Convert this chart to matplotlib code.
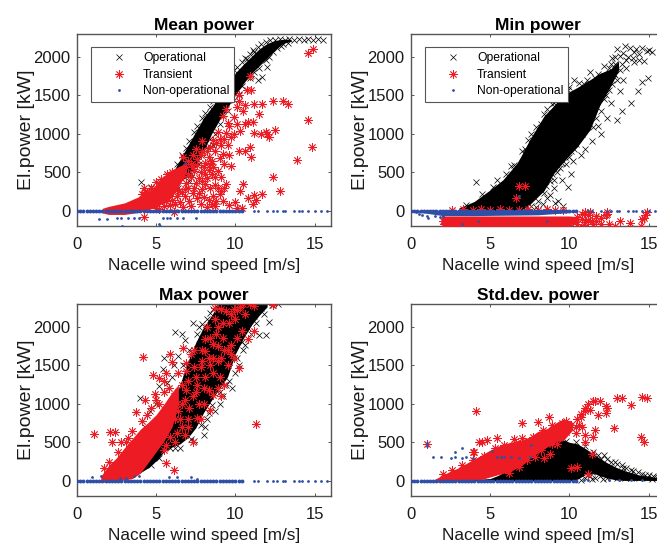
"""Four panels of turbine power against nacelle wind speed."""

import numpy as np
import matplotlib
matplotlib.use("Agg")
import matplotlib.pyplot as plt
from matplotlib.lines import Line2D

plt.rcParams["font.family"] = ["Liberation Sans", "DejaVu Sans"]

# All values are estimated from the picture. The *_band arrays are the outline
# (wind speed, lower, upper) of the parts where the markers overlap into a solid
# patch, they are read as envelopes because single markers cannot be told apart.

zero_speeds = [0, .2, .4, .6, .8, 1, 1.2, 1.4, 1.6, 1.8, 2, 2.2, 2.4, 2.6, 2.8, 3, 3.2, 3.4, 3.6, 3.8,
               4, 4.2, 4.4, 4.6, 4.8, 5, 5.2, 5.4, 5.6, 5.8, 6, 6.2, 6.4, 6.6, 6.8, 7, 7.2, 7.4, 7.6,
               7.8, 8, 8.2, 8.4, 8.6, 8.8, 9, 9.2, 9.4, 9.6, 9.8, 10, 10.2, 10.4]
zero_speeds_sparse = [11.2, 11.4, 12, 12.4, 12.6, 13, 13.1, 13.7, 14, 14.2, 14.6, 15, 15.4, 15.8]

# Mean power
mean_oper_band_v = [3.5, 4, 4.5, 5, 5.5, 6, 6.5, 7, 7.5, 8, 8.5, 9, 9.5, 10, 10.5, 11, 11.5, 12, 12.5, 13, 13.5]
mean_oper_band_lo = [40, 70, 110, 170, 240, 300, 380, 450, 580, 780, 1000, 1180, 1340, 1500, 1650, 1780, 1880, 1980, 2090, 2170, 2200]
mean_oper_band_hi = [90, 140, 210, 300, 390, 480, 660, 845, 1030, 1210, 1340, 1490, 1640, 1790, 1900, 2000, 2100, 2170, 2210, 2225, 2225]
mean_oper = [(4.05, 370), (4.7, 310), (5.2, 350), (5.7, 450), (6.3, 600), (6.9, 810), (7.4, 1020), (7.9, 1200),
             (8.4, 1350), (8.9, 1500), (9.4, 1660), (9.9, 1820), (10.4, 1930), (10.9, 2030), (11.4, 2120),
             (11.9, 2190), (10.6, 1980), (11.2, 2060), (9.7, 1760), (12.2, 2210), (12.5, 2220), (12.8, 2235),
             (13.1, 2220), (13.4, 2230), (13.7, 2215), (14, 2225), (14.3, 2220), (14.6, 2225), (14.9, 2220),
             (15.2, 2225), (15.5, 2220), (12.1, 1990), (11.7, 1730), (12, 1870), (11.4, 1700), (12.6, 2110),
             (13, 2160), (11.2, 1800), (10.4, 1620), (9.9, 1430), (9.2, 1250), (8.7, 1000), (8.2, 820),
             (7.7, 610), (7.2, 480), (8.6, 850), (7.1, 390), (6.4, 300), (6.6, 720), (7.1, 900), (7.6, 1100),
             (8.1, 1270), (8.6, 1420), (9.1, 1570), (9.6, 1720), (10.1, 1860), (10.7, 1970), (11.1, 2090),
             (11.6, 2160), (12, 2050), (12.4, 2060), (12.9, 2140), (11.5, 1850), (10.9, 1720), (10.2, 1520),
             (9.5, 1290), (9, 1130), (8.4, 930), (7.9, 730), (13.3, 2180), (11.9, 1960), (11, 1760)]
mean_trans_band_v = [1.6, 2, 3, 4, 4.5, 5, 5.5, 6, 6.5, 6.9]
mean_trans_band_lo = [-30, -50, -50, -20, 10, 50, 100, 180, 340, 500]
mean_trans_band_hi = [30, 55, 100, 190, 250, 340, 450, 530, 580, 620]
mean_trans = [(14.9, 2100), (14.6, 2050), (10.9, 1750), (11, 1560), (10.7, 1560), (10.2, 1500), (10.2, 1420),
              (10.1, 1350), (10.6, 1370), (10.5, 1290), (11.2, 1390), (11.7, 1390), (12.4, 1420), (13, 1420),
              (13.3, 1380), (14.6, 1180), (14.85, 830), (13.9, 660), (12.5, 1050), (11.5, 1250), (11.1, 1150),
              (10.8, 1150), (10.6, 1130), (10.1, 1130), (9.9, 1210), (9.5, 1140), (9.4, 1320), (9.2, 1230),
              (11, 700), (10.6, 780), (10.2, 770), (10.9, 820), (11.2, 1010), (11.6, 1000), (11.9, 1020),
              (12.1, 960), (12, 990), (12.4, 430), (12.8, 255), (11.2, 200), (11.7, 210), (11.3, 140), (11.1, 80),
              (10.5, 350), (10.3, 260), (10.8, 170), (10, 110), (10.4, 40), (10.1, 40), (9.4, 350), (9.3, 290),
              (9.1, 260), (9, 210), (8.8, 130), (8.6, 190), (8.4, 300), (8.7, 330), (8.2, 420), (8.3, 530),
              (8.9, 520), (9.3, 600), (9.6, 720), (9.2, 740), (9, 680), (9.5, 850), (9.1, 850), (8.7, 780),
              (8.5, 650), (8.8, 880), (8.9, 1020), (9.4, 1010), (9.6, 1100), (8.1, 620), (7.8, 500), (7.6, 670),
              (8.2, 770), (8.6, 920), (7.3, 720), (7, 650), (6.7, 700), (7.5, 800), (7.9, 900), (7.2, 440),
              (7.5, 360), (7.9, 280), (8, 180), (7.6, 160), (7.1, 120), (7.3, 230), (6.8, 280), (6.9, 360),
              (7.4, 520), (7.9, 380), (8.5, 80), (8.3, 140), (6.5, 110), (5.9, 70), (6.3, 190), (4.2, 300),
              (4.3, 240), (4.1, 220), (4.25, -80), (6.1, -20), (5.8, 200), (6.6, 240), (7, 300), (7.7, 420),
              (8.1, 480), (8.4, 600), (6.9, 560), (7.2, 600), (6.2, 300), (6.4, 400), (6.7, 450), (7, 480),
              (7.3, 560), (7.6, 590), (8, 560), (7.8, 720), (8.3, 700), (8.5, 470), (8.7, 430), (8.9, 300),
              (8.1, 350), (7.7, 230), (7.4, 300), (6.8, 190), (6.4, 250), (6, 140), (5.5, 60), (5, 40), (5.2, 20),
              (5.6, 130), (6.2, 80), (6.7, 50), (7.2, 60), (7.8, 90), (8.2, 50), (8.7, 60), (9.2, 130), (9.6, 70),
              (6, 500), (5.7, 470), (5.3, 410), (5, 370), (4.7, 290), (4.4, 240), (9.7, 950), (9.9, 1000),
              (10.3, 1040), (8.4, 830), (9, 930), (9.3, 930), (7.9, 770), (8.6, 560), (9.1, 440), (9.7, 580)]
mean_off = [(1.4, -110), (1.9, -110), (2.5, -100), (2.8, -95), (3.2, -100), (3.6, -100), (3.9, -100), (5.4, -95),
            (5.7, -95), (5.9, -100), (6.3, -100), (6.7, -100), (7.5, -95), (2.85, -205), (5.2, -180), (5.25, -195),
            (6.8, 620)]

# Min power
min_oper_band_v = [3, 4, 5, 5.8, 6.7, 7, 7.5, 8.4, 9, 9.6, 10.5, 11.3, 11.9, 12.6, 13.1]
min_oper_band_lo = [0, 0, 0, 0, 0, 10, 80, 260, 480, 630, 830, 1050, 1360, 1620, 1820]
min_oper_band_hi = [30, 120, 270, 400, 620, 730, 925, 1230, 1360, 1500, 1600, 1700, 1780, 1840, 1940]
min_oper = [(13.5, 2140), (13, 2100), (12.9, 2000), (13.4, 2050), (13.8, 2110), (14.2, 2100), (14.6, 2110),
            (15, 2080), (15.2, 2060), (14.9, 2070), (14.4, 2040), (14, 1980), (14.1, 1930), (14.7, 1940), (13.3, 1900),
            (13.2, 1820), (12.6, 1900), (12.8, 1780), (12.4, 1730), (12.1, 1600), (13, 1700), (13.6, 1850), (12.7, 1650),
            (12.5, 1560), (13.2, 1550), (13.4, 1700), (13.9, 1400), (14.3, 1550), (14.6, 1670), (14.95, 1720), (13, 1180),
            (12.3, 1500), (12, 1300), (11.7, 1200), (11.5, 1080), (12, 1000), (11.8, 1100), (12.4, 1200), (11.4, 900),
            (11, 800), (10.7, 720), (10.2, 650), (10.1, 470), (9.9, 310), (9.5, 400), (9.4, 550), (9, 300), (8.8, 200),
            (9.3, 130), (9.6, 60), (9.1, 100), (8.6, 170), (8.3, 80), (7.9, 50), (9, 400), (10, 900), (10.4, 1000),
            (10.9, 1650), (11.3, 1800), (11.8, 1780), (11.1, 1700), (10.3, 1700), (10, 1600), (9.8, 1620), (9.4, 1540),
            (9, 1400), (8.6, 1320), (8.2, 1120), (7.6, 1000), (7.2, 800), (6.3, 580), (4.1, 370), (5.4, 400),
            (12.2, 1750), (11.6, 1500), (11.2, 1200), (10.8, 1000), (10.3, 800), (9.8, 600), (12.6, 1400), (13.3, 1300),
            (10.6, 1500), (11, 1600), (12.5, 1850), (12.9, 1900), (13.7, 2000), (14.4, 1950), (3.5, 70), (4.5, 210),
            (5.2, 310), (6, 470), (6.5, 590), (7, 770), (7.4, 920), (7.9, 1080), (8.4, 1260), (8.9, 1380), (9.2, 1470),
            (9.9, 1560), (10.6, 1660), (11.6, 1720), (11.3, 1280), (10.9, 1060), (10.4, 860), (10, 700), (9.5, 620),
            (9.2, 500), (8.8, 380), (8.4, 230), (8, 130), (7.6, 60), (7.2, 20), (11.9, 1560), (12.2, 1450), (12.4, 1620),
            (12.9, 1760), (13.2, 2010), (13.6, 1960), (14.1, 2060), (12.7, 1980), (12.2, 1880), (11.5, 1620), (11, 1400),
            (11.7, 1400), (10.9, 1280), (10.6, 1080), (10.1, 780), (9.7, 700), (9.3, 620), (8.9, 480), (8.5, 320)]
min_trans_band_v = [1.9, 2.3, 4, 6, 8, 9, 10, 10.6]
min_trans_band_lo = [-180, -240, -240, -240, -240, -220, -190, -150]
min_trans_band_hi = [-70, -70, -70, -70, -70, -70, -70, -80]
min_trans = [(6.6, 170), (6.8, 320), (7.2, 320), (10.5, -80), (10.8, -40), (11, -20), (11.2, -60), (11.4, -130),
             (11.7, -70), (12, -90), (12.3, -60), (12.4, -20), (12.5, -170), (12.9, -200), (13.2, -140), (13.8, -165),
             (14.5, -200), (14.6, -110), (14.8, -60), (14.9, -20), (11, -150), (10.5, -170), (12, -180), (11.5, -180),
             (10.8, -110), (11.3, -20), (12.4, -50), (14.7, -90), (10.2, -130), (11.7, -130), (9.9, -190), (2, -130),
             (2.1, -180), (10.9, -190), (11.2, -120), (2.6, 10), (3.3, 15), (3.9, 5), (4.4, 15), (5, 10), (5.6, 15),
             (6.2, 5), (6.8, 10), (7.4, 15), (8, 5), (8.6, 15), (9.1, 5), (9.6, 10)]
min_off_band_v = [0, 0.8, 1.5, 2, 4, 8, 10, 10.5]
min_off_band_lo = [-15, -30, -50, -65, -65, -55, -25, -5]
min_off_band_hi = [5, 5, 5, 5, 5, 5, 5, 5]
min_off = [(.3, -20), (.5, -40), (.7, -60), (1, -70), (1.1, -90), (1.5, -70), (1.8, -80), (2, -75),
           (3.2, -170), (4.2, -140), (6.8, 190), (8.6, -140)]

# Max power
max_oper_band_v = [3.8, 4.5, 5, 5.5, 6, 6.5, 7, 7.5, 8, 8.5, 9, 9.5, 10, 10.5, 11, 11.5, 12]
max_oper_band_lo = [80, 170, 260, 380, 440, 480, 560, 690, 890, 1050, 1200, 1350, 1650, 1850, 2020, 2150, 2260]
max_oper_band_hi = [100, 300, 450, 700, 1000, 1250, 1550, 1800, 2000, 2150, 2320, 2320, 2320, 2320, 2320, 2320, 2320]
max_oper = [(5.5, 1590), (5.4, 1450), (4, 1080), (6.2, 1930), (6.6, 1900), (7.1, 1700), (7.3, 2050), (5.7, 1270),
            (6, 1350), (5.2, 1230), (12.7, 2290), (12.1, 2060), (11.9, 1890), (11.5, 1890), (10.5, 1700), (8.1, 700),
            (8.3, 880), (8.1, 1860), (7.7, 2000), (8.2, 2100), (8.6, 2230), (9, 1000), (8.7, 900), (8, 600), (7.4, 520),
            (6.5, 420), (9.8, 1200), (10.2, 1500), (10.6, 1760), (11, 1900), (11.3, 2050), (11.8, 2170), (12.3, 2280),
            (6.8, 1830), (6.4, 1620), (6.1, 1500), (5, 1000), (4.6, 900), (4.3, 700), (7.6, 1900), (7.9, 2030),
            (8.4, 2180), (8.8, 2270), (7.2, 1600), (6.9, 1400), (6.7, 1500), (9.2, 1100), (9.6, 1300), (10, 1400),
            (8.5, 980), (8.2, 800), (7.8, 720), (7.2, 540), (6.2, 430), (5.9, 420), (5.2, 300), (4.7, 200), (10.4, 1800),
            (10.8, 1980), (11.2, 2140), (11.6, 2240), (10.1, 1600), (9.4, 1250), (9, 1150), (6.4, 1150), (6.1, 1020)]
max_trans_band_v = [1.5, 2, 2.5, 3, 3.5, 4, 4.5, 5, 5.5, 6, 6.4]
max_trans_band_lo = [-20, -20, 0, 10, 30, 100, 240, 380, 520, 700, 1000]
max_trans_band_hi = [60, 200, 300, 430, 550, 670, 760, 860, 1000, 1150, 1250]
max_trans = [(1.1, 610), (2.1, 630), (2.4, 630), (2.2, 500), (2.8, 500), (3.2, 550), (4.15, 1610), (3.7, 890),
             (4.3, 1050), (4.8, 1380), (4.9, 1130), (5, 1050), (5.5, 1300), (5.9, 1650), (6.1, 140), (5.6, 230),
             (11.3, 740), (10.2, 1460), (11.2, 1950), (10.8, 1840), (12.4, 2280), (5.2, 1330), (5.6, 1400), (6, 1540),
             (6.4, 1400), (6.6, 1250), (6.9, 1530), (7, 1300), (7.4, 1480), (7.6, 1250), (8.1, 1680), (8.4, 1500),
             (8.1, 1350), (8.6, 1780), (8.9, 1550), (9, 1350), (9.3, 1700), (9.5, 1500), (8.9, 2000), (9.2, 1850),
             (9.6, 2050), (9.4, 2200), (9.9, 2230), (10, 2100), (10.3, 2260), (10.6, 2170), (10.9, 2290), (11.2, 2270),
             (8.2, 2000), (8.7, 2100), (8.9, 1200), (8.3, 1180), (7.7, 1000), (7.3, 1100), (6.8, 1050), (6.5, 800),
             (6.8, 600), (6.2, 500), (5.5, 400), (7.3, 500), (7.8, 800), (8.4, 920), (9.1, 1100), (7.4, 1700),
             (7.2, 1650), (10.1, 1850), (10.4, 1950), (9.7, 1770), (7.9, 1550), (6.7, 1720), (9.9, 1600),
             (6.6, 1000), (6.4, 900), (6.2, 800), (6.6, 700), (7, 800), (7.1, 950), (6.9, 1180), (7.5, 1350), (7.8, 1480),
             (7.9, 1700), (8.3, 1600), (8.6, 1400), (8.6, 1600), (8.9, 1750), (9.1, 1600), (9.5, 1700), (9.7, 1650),
             (8.4, 1850), (8.1, 1840), (8.8, 1900), (9.2, 2050), (9.7, 2170), (10.1, 2220), (10.5, 2290), (9.1, 2230),
             (8.7, 2250), (6.1, 1100), (5.8, 1200), (5.5, 1150), (5.2, 1000), (4.7, 950), (4.4, 850), (4.1, 780),
             (3.5, 650), (3.1, 500), (2.6, 380), (2, 250), (1.7, 170), (5.9, 1000), (6.3, 1000), (7.5, 1150), (8, 1200),
             (7.6, 820), (8, 1000), (8.6, 1120), (9.3, 1250), (7, 700), (6.3, 620), (5.9, 570), (5.6, 470), (6.9, 1420)]
max_off = [(.95, 50), (1.5, 60), (2.7, 40), (3.1, 40), (3.6, 60), (3.9, 60), (5.8, 50), (6.3, 50), (7.2, 55), (7.6, 25)]

# Std.dev. power
std_oper_band_v = [3, 4, 5, 5.5, 6, 6.5, 7, 7.5, 8, 8.5, 9, 9.5, 10, 10.5, 11, 11.5, 12, 12.5, 13, 13.5, 14, 14.5, 15, 15.5]
std_oper_band_lo = [0, 0, 0, 0, 0, 0, 0, 0, 0, 0, 0, 0, 0, 20, 80, 100, 60, 30, 10, 5, 5, 5, 5, 5]
std_oper_band_hi = [10, 15, 30, 70, 130, 200, 260, 320, 390, 470, 520, 540, 500, 480, 420, 350, 280, 220, 170, 130, 100, 70, 60, 40]
std_oper = [(6.5, 440), (6.8, 430), (7.1, 470), (7.4, 500), (6.2, 430), (7.6, 450), (6.9, 420), (12.2, 330), (12, 280),
            (12.6, 250), (13, 220), (13.3, 200), (13.6, 160), (14, 130), (14.3, 110), (14.6, 90), (15, 70), (15.3, 60),
            (15.6, 50), (12.5, 180), (13.2, 120), (13.8, 70), (14.4, 40), (11, 30), (10.7, 10), (11.6, 40), (12.1, 20),
            (11.3, 60), (12.7, 60), (13.5, 40), (14.9, 30), (9.8, 520), (10.4, 500), (11, 450), (11.5, 380), (11.8, 330),
            (12.4, 280), (12.9, 250), (13.4, 170), (13.9, 140), (14.8, 80), (15.5, 40), (11.4, 20), (11.9, 60), (12.4, 40),
            (13, 30), (13.9, 30), (15.2, 20), (12.1, 160), (11.8, 130), (11.4, 120)]
std_trans_band_v = [1.5, 2.25, 3, 3.7, 4.5, 5, 5.5, 6.25, 7, 7.5, 8, 8.6, 9.2, 9.6, 10.2]
std_trans_band_lo = [-20, -20, -10, 0, 20, 50, 80, 120, 200, 290, 360, 440, 510, 520, 660]
std_trans_band_hi = [20, 100, 170, 250, 340, 400, 450, 500, 530, 570, 640, 680, 760, 800, 760]
std_trans = [(1, 480), (4.1, 900), (7, 750), (8, 770), (8.7, 830), (5.4, 550), (4.8, 530), (4.3, 500), (4.5, 500),
             (6.5, 540), (7, 560), (4, 380), (3.9, 370), (9.5, 750), (9.8, 780), (10.1, 720), (10.5, 800), (10.7, 870),
             (11, 950), (11.2, 1000), (11.5, 1030), (11.9, 1040), (11.6, 1040), (12.3, 970), (12.4, 950), (12.3, 880),
             (11.8, 850), (11.3, 920), (11, 900), (10.7, 830), (13, 1070), (13.3, 1070), (13.9, 990), (14.6, 1090),
             (14.9, 1070), (14.5, 570), (14.7, 510), (12.8, 690), (11.6, 660), (11, 600), (11.5, 570), (11, 500),
             (11.4, 350), (10.5, 180), (10.1, 170), (11.2, 90), (8.4, 300), (8.8, 350), (9.2, 480), (9, 540), (9.8, 640),
             (10.4, 620), (10.8, 700), (8.3, 600), (9.3, 700), (9.9, 700), (10.4, 700), (10.6, 730), (2, 90), (2.6, 140),
             (3.2, 200), (3.9, 270), (4.6, 320), (5.3, 420), (5.9, 470), (6.6, 490), (7.7, 570), (8.3, 660), (8.9, 730),
             (6.2, 100), (6.8, 180), (7.3, 270), (7.8, 310), (8.2, 400), (8.9, 480), (7.4, 430), (8, 480), (9.4, 570)]
std_off = [(1, 490), (1, 450), (1.4, 310), (1.9, 310), (2.5, 300), (2.8, 310), (2.8, 370), (3.2, 420), (3.2, 300),
           (3.5, 310), (3.9, 300), (5.1, 390), (5.4, 310), (5.7, 310), (5.9, 310), (6.3, 310), (6.8, 290), (7.5, 310),
           (7.6, 470), (10.9, 5), (11.2, 5), (12.5, 5), (13.1, 5), (13.9, 5), (14.6, 5)]

panel_titles = ["Mean power", "Min power", "Max power", "Std.dev. power"]
x_ticks = [0, 5, 10, 15]
y_ticks = [0, 500, 1000, 1500, 2000]
legend_labels = ["Operational", "Transient", "Non-operational"]

BLACK = "#000000"
RED = "#ed1c24"
BLUE = "#2f4fa6"
EDGE = "#555555"
ASTERISK = (8, 2, 0)


def draw_points(ax, points, color, marker, size, width, zorder):
    arr = np.array(points)
    ax.plot(arr[:, 0], arr[:, 1], linestyle="none", marker=marker, color=color,
            markersize=size, markeredgewidth=width, zorder=zorder)


def draw_panel(ax, title, oper_band, oper, trans_band, trans, off, sparse=True, off_band=None):
    ax.fill_between(oper_band[0], oper_band[1], oper_band[2], color=BLACK, linewidth=0, zorder=1)
    draw_points(ax, oper, BLACK, "x", 5, 0.5, 2)
    ax.fill_between(trans_band[0], trans_band[1], trans_band[2], color=RED, linewidth=0, zorder=3)
    draw_points(ax, trans, RED, ASTERISK, 6, 0.6, 4)

    ax.plot(zero_speeds, np.zeros(len(zero_speeds)), linestyle="none", marker="o", color=BLUE,
            markersize=2.8, markeredgewidth=0, zorder=5)
    if sparse:
        ax.plot(zero_speeds_sparse, np.zeros(len(zero_speeds_sparse)), linestyle="none", marker="o",
                color=BLUE, markersize=2, markeredgewidth=0, zorder=5)
    if off_band:
        ax.fill_between(off_band[0], off_band[1], off_band[2], color=BLUE, linewidth=0, zorder=5)
    draw_points(ax, off, BLUE, "o", 2, 0, 5)

    ax.set_xlim(0, 16)
    ax.set_ylim(-200, 2300)
    ax.set_xticks(x_ticks)
    ax.set_yticks(y_ticks)
    ax.tick_params(direction="in", top=True, right=True, length=2.5, width=0.7, color=EDGE,
                   labelsize=12, labelcolor="#1a1a1a")
    ax.tick_params(axis="x", pad=8)
    ax.tick_params(axis="y", pad=4.5)
    for spine in ax.spines.values():
        spine.set_color(EDGE)
        spine.set_linewidth(1.0)
    ax.set_title(title, fontsize=12.5, fontweight="bold", pad=2.5)
    ax.set_xlabel("Nacelle wind speed [m/s]", fontsize=12.4, color="#1a1a1a", labelpad=4)
    ax.set_ylabel("El.power [kW]", fontsize=14, color="#1a1a1a", labelpad=-1)


def add_legend(ax):
    handles = [
        Line2D([], [], linestyle="none", marker="x", color=BLACK, markersize=5, markeredgewidth=0.5),
        Line2D([], [], linestyle="none", marker=ASTERISK, color=RED, markersize=6, markeredgewidth=0.6),
        Line2D([], [], linestyle="none", marker="o", color=BLUE, markersize=2, markeredgewidth=0),
    ]
    leg = ax.legend(handles, legend_labels, loc="upper left", bbox_to_anchor=(0.054, 0.928),
                    borderaxespad=0, fontsize=8.7, fancybox=False, framealpha=1, edgecolor=EDGE,
                    borderpad=0.42, labelspacing=0.36, handlelength=3.9, handletextpad=0.0)
    leg.get_frame().set_linewidth(0.8)
    leg.set_zorder(10)


W, H = 657.0, 543.0
fig = plt.figure(figsize=(W / 100, H / 100), dpi=100, facecolor="white")


def panel_axes(left, top):
    # pixel geometry of the panels, right-hand ones run past the image edge
    return fig.add_axes([left / W, 1 - (top + 192.5) / H, 253.5 / W, 192.5 / H])


ax_mean = panel_axes(77, 33.5)
ax_min = panel_axes(411, 33.5)
ax_max = panel_axes(77, 303.7)
ax_std = panel_axes(411, 303.7)

draw_panel(ax_mean, panel_titles[0], (mean_oper_band_v, mean_oper_band_lo, mean_oper_band_hi), mean_oper,
           (mean_trans_band_v, mean_trans_band_lo, mean_trans_band_hi), mean_trans, mean_off)
draw_panel(ax_min, panel_titles[1], (min_oper_band_v, min_oper_band_lo, min_oper_band_hi), min_oper,
           (min_trans_band_v, min_trans_band_lo, min_trans_band_hi), min_trans, min_off,
           off_band=(min_off_band_v, min_off_band_lo, min_off_band_hi))
draw_panel(ax_max, panel_titles[2], (max_oper_band_v, max_oper_band_lo, max_oper_band_hi), max_oper,
           (max_trans_band_v, max_trans_band_lo, max_trans_band_hi), max_trans, max_off)
draw_panel(ax_std, panel_titles[3], (std_oper_band_v, std_oper_band_lo, std_oper_band_hi), std_oper,
           (std_trans_band_v, std_trans_band_lo, std_trans_band_hi), std_trans, std_off, sparse=False)

add_legend(ax_mean)
add_legend(ax_min)

fig.savefig("out.png", dpi=100, facecolor="white")
plt.close(fig)
